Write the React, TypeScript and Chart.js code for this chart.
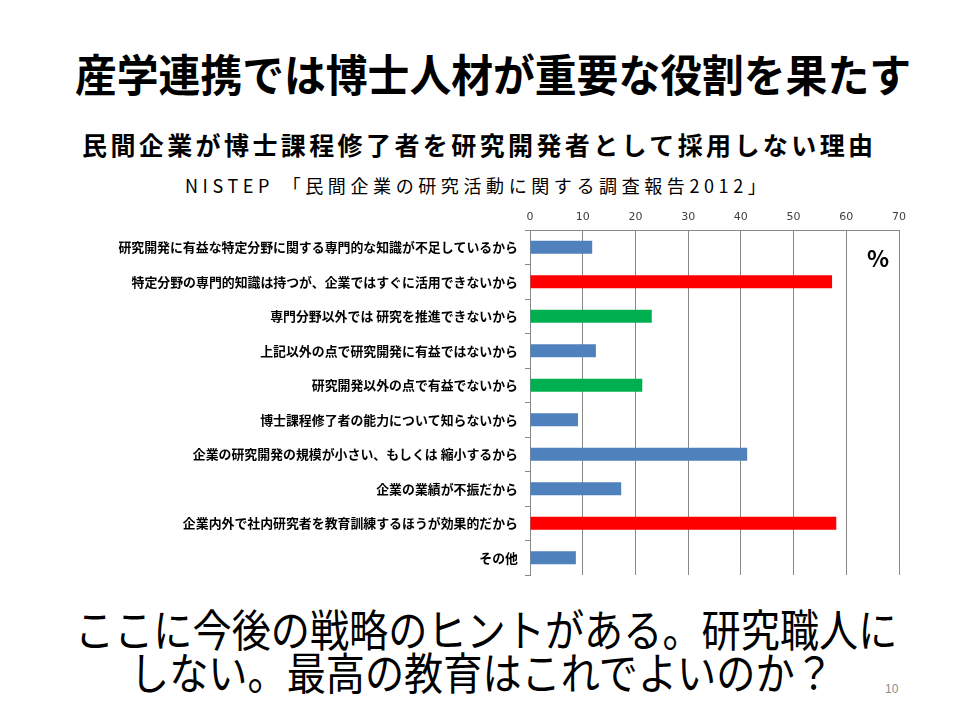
import React, { useEffect, useRef } from 'react';
import { Chart, registerables } from 'chart.js';

Chart.register(...registerables);

// 採用しない理由（%）
const reasons = [
  '研究開発に有益な特定分野に関する専門的な知識が不足しているから',
  '特定分野の専門的知識は持つが、企業ではすぐに活用できないから',
  '専門分野以外では 研究を推進できないから',
  '上記以外の点で研究開発に有益ではないから',
  '研究開発以外の点で有益でないから',
  '博士課程修了者の能力について知らないから',
  '企業の研究開発の規模が小さい、もしくは 縮小するから',
  '企業の業績が不振だから',
  '企業内外で社内研究者を教育訓練するほうが効果的だから',
  'その他',
];
const percents = [11.8, 57.3, 23.1, 12.5, 21.3, 9.1, 41.2, 17.3, 58.1, 8.7];
const axisMin = 0;
const axisMax = 70;
const axisStep = 10;

const BLUE = '#4F81BD';
const RED = '#FF0000';
const GREEN = '#00B050';
const barColors = [BLUE, RED, GREEN, BLUE, GREEN, BLUE, BLUE, BLUE, RED, BLUE];

const JP = '"Noto Sans CJK JP", "Noto Sans", sans-serif';

const ReasonChart: React.FC = () => {
  const canvasRef = useRef<HTMLCanvasElement | null>(null);

  useEffect(() => {
    const ctx = canvasRef.current?.getContext('2d');
    if (!ctx) return;

    const chart = new Chart(ctx, {
      type: 'bar',
      data: {
        labels: reasons,
        datasets: [{
          data: percents,
          backgroundColor: barColors,
          borderWidth: 0,
          barPercentage: 0.38,
          categoryPercentage: 1,
        }],
      },
      options: {
        indexAxis: 'y',
        animation: false,
        responsive: true,
        maintainAspectRatio: false,
        layout: { padding: { left: 0, right: 61, top: 0, bottom: 20 } },
        plugins: {
          legend: { display: false },
          tooltip: { enabled: false },
        },
        scales: {
          x: {
            type: 'linear',
            position: 'top',
            min: axisMin,
            max: axisMax,
            ticks: {
              stepSize: axisStep,
              color: '#404040',
              font: { family: '"DejaVu Sans", sans-serif', size: 11 },
              padding: 6,
            },
            grid: { color: '#888888', lineWidth: 1, drawTicks: false },
            border: { display: true, color: '#888888' },
            afterFit: (scale: any) => { scale.height = 35; },
          },
          y: {
            type: 'category',
            position: 'left',
            ticks: {
              color: '#000000',
              font: { family: JP, size: 12.9, weight: 'bold' },
              padding: 7,
              autoSkip: false,
            },
            grid: {
              offset: true,
              drawOnChartArea: false,
              drawTicks: true,
              tickLength: 5,
              color: '#888888',
            },
            border: { display: true, color: '#888888' },
            afterFit: (scale: any) => { scale.width = 530; },
          },
        },
      },
    });

    return () => chart.destroy();
  }, []);

  return <canvas ref={canvasRef} />;
};

const text = (style: React.CSSProperties): React.CSSProperties => ({
  position: 'absolute',
  whiteSpace: 'nowrap',
  lineHeight: 1,
  fontFamily: JP,
  color: '#000',
  ...style,
});

export default function App() {
  return (
    <div style={{ position: 'absolute', left: 0, top: 0, width: 960, height: 720, background: '#fff', overflow: 'hidden' }}>
      <div style={text({ left: 75, top: 51, fontSize: 44, fontWeight: 'bold', transform: 'scaleX(0.95)', transformOrigin: 'left top' })}>
        産学連携では博士人材が重要な役割を果たす
      </div>
      <div style={text({ left: 82, top: 132, fontSize: 25, fontWeight: 'bold', letterSpacing: 3.4 })}>
        民間企業が博士課程修了者を研究開発者として採用しない理由
      </div>
      <div style={text({ left: 185, top: 176, fontSize: 18, letterSpacing: 4.6 })}>
        NISTEP 「民間企業の研究活動に関する調査報告2012」
      </div>

      <div style={{ position: 'absolute', left: 0, top: 195, width: 960, height: 400 }}>
        <ReasonChart />
      </div>

      <div style={text({ left: 867, top: 246, fontSize: 23, fontWeight: 'bold' })}>%</div>

      <div style={text({ left: 75, top: 606, fontSize: 44, transform: 'scaleX(0.89)', transformOrigin: 'left top' })}>
        ここに今後の戦略のヒントがある。研究職人に
      </div>
      <div style={text({ left: 130, top: 649, fontSize: 44, transform: 'scaleX(0.89)', transformOrigin: 'left top' })}>
        しない。最高の教育はこれでよいのか？
      </div>
      <div style={text({ left: 885, top: 683, fontSize: 12, color: '#8c8c8c', fontFamily: '"Liberation Sans", sans-serif' })}>
        10
      </div>
    </div>
  );
}
